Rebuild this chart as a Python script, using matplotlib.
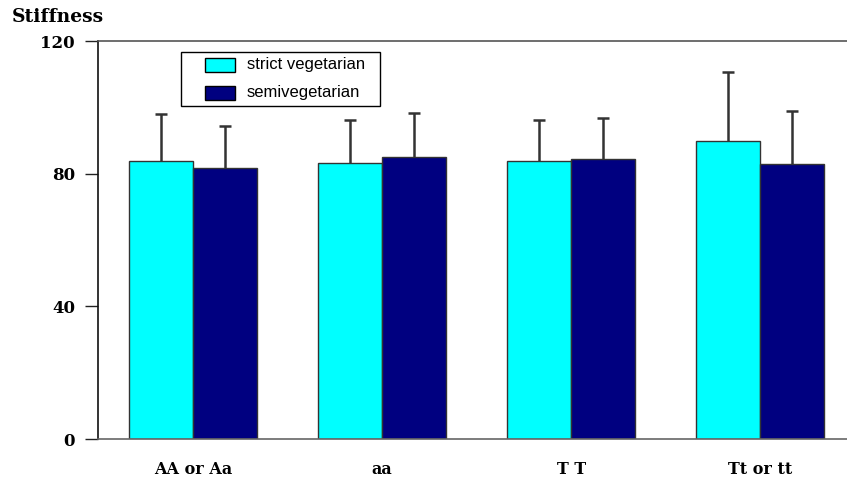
import numpy as np
import matplotlib.pyplot as plt
from matplotlib.patches import Rectangle

categories = ['AA or Aa', 'aa', 'T T', 'Tt or tt']
strict_mean = [83.8, 83.2, 83.8, 89.8]
strict_err = [14.2, 13.0, 12.4, 20.8]
semi_mean = [81.7, 85.0, 84.4, 82.9]
semi_err = [12.7, 13.3, 12.4, 16.0]
yticks = [0, 40, 80, 120]
series_names = ['strict vegetarian', 'semivegetarian']

cyan = '#00FFFF'
navy = '#000080'
edge = '#333333'

W, H = 847, 482
fig = plt.figure(figsize=(W/100, H/100), dpi=100)
ax = fig.add_axes([98/W, 43/H, 1 - 98/W, 398/H])

x = np.arange(len(categories))
w = 0.338
cap = 0.033
for xs, mean, err, col in [(x - w/2, strict_mean, strict_err, cyan),
                           (x + w/2, semi_mean, semi_err, navy)]:
    mean = np.array(mean)
    top = mean + np.array(err)
    ax.vlines(xs, mean, top, color=edge, linewidth=1.8, zorder=1)
    ax.hlines(top, xs - cap, xs + cap, color=edge, linewidth=1.8, zorder=1)
    ax.bar(xs, mean, w, color=col, edgecolor=edge, linewidth=1, zorder=2)

ax.set_xlim(-0.503, 3.46)
ax.set_ylim(0, 120)
ax.set_yticks(yticks)
ax.set_xticks(x)
ax.set_xticklabels(categories)

for lab in ax.get_yticklabels():
    lab.set_fontfamily('DejaVu Serif')
    lab.set_fontweight('bold')
    lab.set_fontsize(12)
for lab in ax.get_xticklabels():
    lab.set_fontfamily('DejaVu Serif')
    lab.set_fontweight('bold')
    lab.set_fontsize(11.5)

ax.tick_params(axis='y', direction='out', length=9.5, width=1, pad=7, color='#222222')
ax.tick_params(axis='x', length=0, pad=16)

ax.spines['right'].set_visible(False)
ax.spines['left'].set_color('#111111')
ax.spines['top'].set_color('#555555')
ax.spines['bottom'].set_color('#666666')
for s in ['left', 'top', 'bottom']:
    ax.spines[s].set_linewidth(1.2)

fig.text(12/W, 1 - 17/H, 'Stiffness', fontfamily='DejaVu Serif', fontweight='bold',
         fontsize=13.5, va='center', ha='left')

# legend box drawn in figure pixels
def px(x0, y0, w_, h_):
    return (x0/W, 1 - (y0 + h_)/H), w_/W, h_/H

xy, bw, bh = px(181, 52, 199, 54)
fig.patches.append(Rectangle(xy, bw, bh, transform=fig.transFigure, facecolor='white',
                             edgecolor='black', linewidth=1, zorder=5))
for i, (name, col) in enumerate(zip(series_names, [cyan, navy])):
    y0 = 58 + i*28
    xy, bw, bh = px(205, y0, 30, 14)
    fig.patches.append(Rectangle(xy, bw, bh, transform=fig.transFigure, facecolor=col,
                                 edgecolor='black', linewidth=1, zorder=6))
    fig.text(247/W, 1 - (y0 + 7)/H, name, fontfamily='Liberation Sans', fontsize=12,
             va='center', ha='left', zorder=7)

fig.savefig('out.png', dpi=100)
